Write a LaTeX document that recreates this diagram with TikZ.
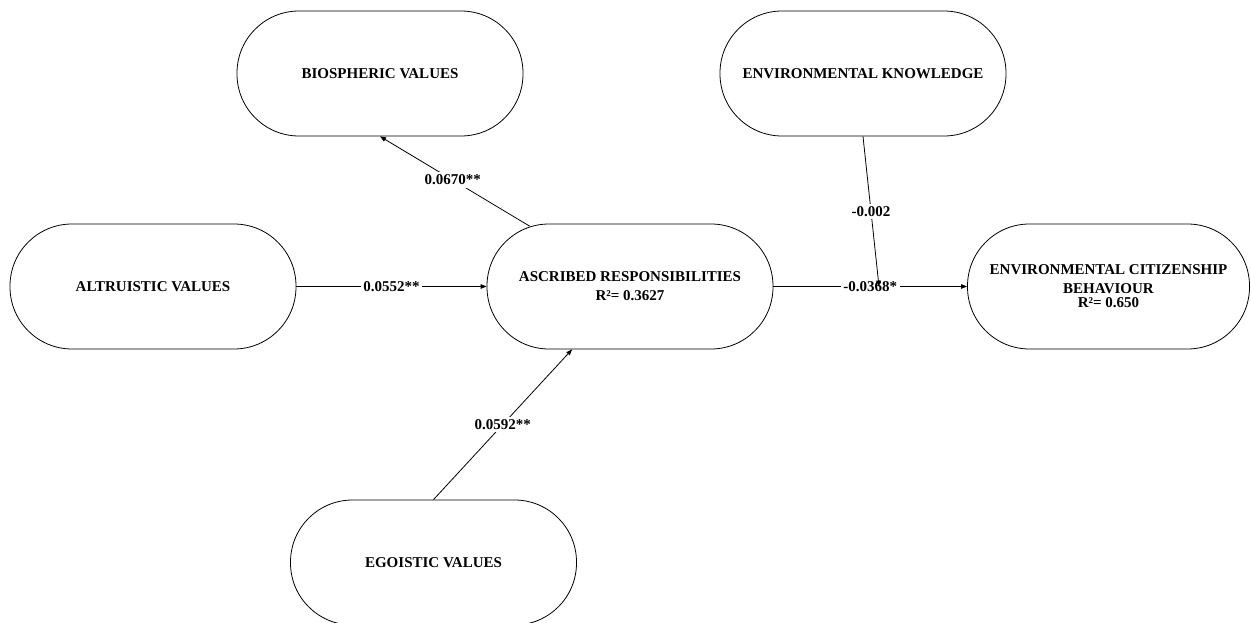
\documentclass[tikz,border=0pt]{standalone}
\usepackage{fontspec}
\setmainfont{Liberation Serif}
\usetikzlibrary{arrows.meta,calc}
\begin{document}
\begin{tikzpicture}[x=1pt,y=-1pt,
  var/.style={draw, line width=0.8pt, rectangle, rounded corners=62pt,
    minimum width=286pt, minimum height=125pt, align=center, inner sep=0pt,
    font=\fontsize{15}{19}\selectfont\bfseries},
  conn/.style={line width=0.8pt, -{Triangle[length=6pt,width=4.5pt]}},
  coef/.style={fill=white, inner sep=2.5pt, font=\fontsize{15}{18}\selectfont\bfseries}]
\useasboundingbox (0,0) rectangle (1251,623);
\node[var] (bio) at (380,73.5) {BIOSPHERIC VALUES};
\node[var] (ek) at (863,73.5) {ENVIRONMENTAL KNOWLEDGE};
\node[var] (alt) at (153,286.5) {ALTRUISTIC VALUES};
\node[var] (asc) at (630,286.5) {ASCRIBED RESPONSIBILITIES\\R²= 0.3627};
\node[var, minimum width=282pt] (ecb) at (1108.5,286.5) {ENVIRONMENTAL CITIZENSHIP\\BEHAVIOUR\\[-5pt]R²= 0.650};
\node[var] (ego) at (433.5,562.5) {EGOISTIC VALUES};
\coordinate (m) at (879,286.5);
\draw[conn, shorten <=-5pt] (asc) -- node[coef]{0.0670**} (bio.south);
\draw[conn] (alt) -- node[coef]{0.0552**} (asc);
\draw[conn] (ego.north) -- node[coef]{0.0592**} (asc);
\draw[conn] (asc) -- node[coef]{-0.0368*} (ecb);
\draw[conn] (ek.south) -- node[coef]{-0.002} (m);
\end{tikzpicture}
\end{document}
